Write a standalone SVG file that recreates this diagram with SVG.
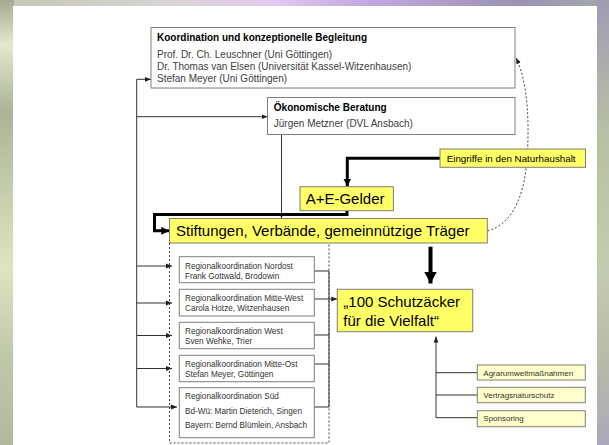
<svg xmlns="http://www.w3.org/2000/svg" width="609" height="445" viewBox="0 0 609 445">
<defs>
<linearGradient id="gTop" x1="0" y1="0" x2="1" y2="0">
<stop offset="0" stop-color="#c4c6b4"/><stop offset="0.3" stop-color="#dcd4d8"/><stop offset="0.45" stop-color="#e4c8f2"/><stop offset="0.6" stop-color="#c2a8e2"/><stop offset="0.85" stop-color="#9c92b4"/><stop offset="1" stop-color="#a4aaa8"/>
</linearGradient>
<linearGradient id="gLeft" x1="0" y1="0" x2="0" y2="1">
<stop offset="0" stop-color="#a6aa90"/><stop offset="0.1" stop-color="#e4e8cc"/><stop offset="0.25" stop-color="#aab496"/><stop offset="0.45" stop-color="#c8d0ae"/><stop offset="0.6" stop-color="#dce4c0"/><stop offset="0.8" stop-color="#c0c8aa"/><stop offset="1" stop-color="#b0b8a0"/>
</linearGradient>
<linearGradient id="gRight" x1="0" y1="0" x2="0" y2="1">
<stop offset="0" stop-color="#a09cb4"/><stop offset="0.3" stop-color="#b8c0a4"/><stop offset="0.6" stop-color="#c4ccb0"/><stop offset="0.8" stop-color="#b8bca8"/><stop offset="1" stop-color="#aca8bc"/>
</linearGradient>
<marker id="aThin" viewBox="0 0 6 6" refX="6" refY="3" markerWidth="6" markerHeight="6" markerUnits="userSpaceOnUse" orient="auto">
<path d="M0,0.6 L6,3 L0,5.4 z" fill="#202020"/>
</marker>
<marker id="aMed" viewBox="0 0 8 8" refX="8" refY="4" markerWidth="8" markerHeight="8" markerUnits="userSpaceOnUse" orient="auto">
<path d="M0,0 L8,4 L0,8 z" fill="#000"/>
</marker>
<marker id="aBig" viewBox="0 0 12 13" refX="12" refY="6.5" markerWidth="12" markerHeight="13" markerUnits="userSpaceOnUse" orient="auto">
<path d="M0,0 L12,6.5 L0,13 z" fill="#000"/>
</marker>
</defs>
<style>
text{font-family:"Liberation Sans",Arial,sans-serif;}
.box{fill:#fff;stroke:#7f7f7f;stroke-width:1;}
.yel{fill:#ffff66;stroke:#7f7f7f;stroke-width:1;}
.pale{fill:#ffffcc;stroke:#7f7f7f;stroke-width:1;}
.t{font-size:10px;font-weight:bold;fill:#000;}
.b{font-size:10px;fill:#404040;}
.big{font-size:15px;fill:#000;}
.r{font-size:8.2px;fill:#333;}
.s{font-size:8px;fill:#333;}
.ln{fill:none;stroke:#333;stroke-width:1;}
.thin{fill:none;stroke:#333;stroke-width:1;marker-end:url(#aThin);}
.thick{fill:none;stroke:#000;stroke-width:3;}
.dash{fill:none;stroke:#444;stroke-width:1;stroke-dasharray:2,2;}
</style>
<rect x="0" y="0" width="609" height="445" fill="#b8bea8"/>
<rect x="0" y="0" width="609" height="8" fill="url(#gTop)"/>
<rect x="0" y="0" width="14" height="445" fill="url(#gLeft)"/>
<rect x="596" y="0" width="13" height="445" fill="url(#gRight)"/>
<rect x="13" y="6" width="584" height="439" fill="#fff"/>

<g id="connectors">
<path class="ln" d="M136.7,79.3 V407"/>
<path class="thin" d="M136.7,79.3 H151"/>
<path class="thin" d="M136.7,116.7 H267.5"/>
<path class="thin" d="M136.7,266 H172"/>
<path class="thin" d="M136.7,303 H172"/>
<path class="thin" d="M136.7,335.5 H172"/>
<path class="thin" d="M136.7,368.5 H172"/>
<path class="thin" d="M136.7,407 H177"/>
<path class="thin" d="M281.5,134.5 V218.5"/>
<path class="dash" d="M169.5,243 V443 H329 V243"/>
<path class="ln" d="M314.3,271 H329 M314.3,335 H329 M314.3,364 H329 M314.3,407 H329 M329,271 V407"/>
<path class="thin" d="M314.3,299 H337.3"/>
<path class="thick" d="M440,158.3 H347.3 V186.5" style="marker-end:url(#aMed)"/>
<path class="thick" d="M347,210.7 V214.5 H154.5 V230.8 H169.3" style="marker-end:url(#aMed)"/>
<path fill="none" stroke="#000" stroke-width="4" d="M430.5,246.7 V283.5" style="marker-end:url(#aBig)"/>
<path class="dash" d="M487.5,231 C512,224 523,198 526.5,165 C530,125 528,82 516,58" style="marker-end:url(#aThin)"/>
<path class="thin" d="M436,417.7 V336.5"/>
<path class="ln" d="M436,372.7 H477.3 M436,395 H477.3 M436,417.7 H477.3"/>
</g>

<g id="koordination">
<rect class="box" x="151" y="27.5" width="364" height="60.5"/>
<text class="t" x="157" y="41">Koordination und konzeptionelle Begleitung</text>
<text class="b" x="157" y="57.6">Prof. Dr. Ch. Leuschner (Uni Göttingen)</text>
<text class="b" x="157" y="70.3">Dr. Thomas van Elsen (Universität Kassel-Witzenhausen)</text>
<text class="b" x="157" y="82.3">Stefan Meyer (Uni Göttingen)</text>
</g>
<g id="oekonomische">
<rect class="box" x="267.5" y="97.5" width="247.5" height="37"/>
<text class="t" x="273.8" y="110.6">Ökonomische Beratung</text>
<text class="b" x="273.8" y="127.3">Jürgen Metzner (DVL Ansbach)</text>
</g>
<g id="eingriffe">
<rect class="yel" x="440" y="149" width="145.5" height="18.3"/>
<text style="font-size:9.8px;fill:#000" x="446.7" y="161.8">Eingriffe in den Naturhaushalt</text>
</g>
<g id="ae-gelder">
<rect class="yel" x="300" y="186.7" width="93.4" height="24"/>
<text class="big" x="305.7" y="204.4">A+E-Gelder</text>
</g>
<g id="stiftungen">
<rect class="yel" x="169.5" y="218.5" width="317.8" height="24.5"/>
<text class="big" x="176" y="236.1">Stiftungen, Verbände, gemeinnützige Träger</text>
</g>
<g id="rk-nordost">
<rect class="box" x="179.3" y="256.7" width="135" height="26"/>
<text class="r" x="185" y="268.7">Regionalkoordination Nordost</text>
<text class="r" x="185" y="278.7">Frank Gottwald, Brodowin</text>
</g>
<g id="rk-mitte-west">
<rect class="box" x="179.3" y="289.3" width="135" height="26.7"/>
<text class="r" x="185" y="301.3">Regionalkoordination Mitte-West</text>
<text class="r" x="185" y="311.3">Carola Hotze, Witzenhausen</text>
</g>
<g id="rk-west">
<rect class="box" x="179.3" y="322.3" width="135" height="26.4"/>
<text class="r" x="185" y="334">Regionalkoordination West</text>
<text class="r" x="185" y="344">Sven Wehke, Trier</text>
</g>
<g id="rk-mitte-ost">
<rect class="box" x="179.3" y="355.3" width="135" height="26.4"/>
<text class="r" x="185" y="366.7">Regionalkoordination Mitte-Ost</text>
<text class="r" x="185" y="376.7">Stefan Meyer, Göttingen</text>
</g>
<g id="rk-sued">
<rect class="box" x="179.3" y="387.7" width="135" height="50"/>
<text class="r" x="185" y="398.7">Regionalkoordination Süd</text>
<text class="r" x="185" y="413.7">Bd-Wü: Martin Dieterich, Singen</text>
<text class="r" x="185" y="428.3">Bayern: Bernd Blümlein, Ansbach</text>
</g>
<g id="schutzaecker">
<rect class="yel" x="337.3" y="289.3" width="135.4" height="42.4"/>
<text class="big" x="343.3" y="307">„100 Schutzäcker</text>
<text class="big" x="343.3" y="325.5">für die Vielfalt“</text>
</g>
<g id="agrarumwelt">
<rect class="pale" x="477.3" y="365" width="108" height="15"/>
<text class="s" x="483.3" y="375.6">Agrarumweltmaßnahmen</text>
</g>
<g id="vertragsnaturschutz">
<rect class="pale" x="477.3" y="387.3" width="108" height="15.4"/>
<text class="s" x="483.3" y="397.9">Vertragsnaturschutz</text>
</g>
<g id="sponsoring">
<rect class="pale" x="477.3" y="410.7" width="108" height="16"/>
<text class="s" x="483.3" y="421.2">Sponsoring</text>
</g>
</svg>
